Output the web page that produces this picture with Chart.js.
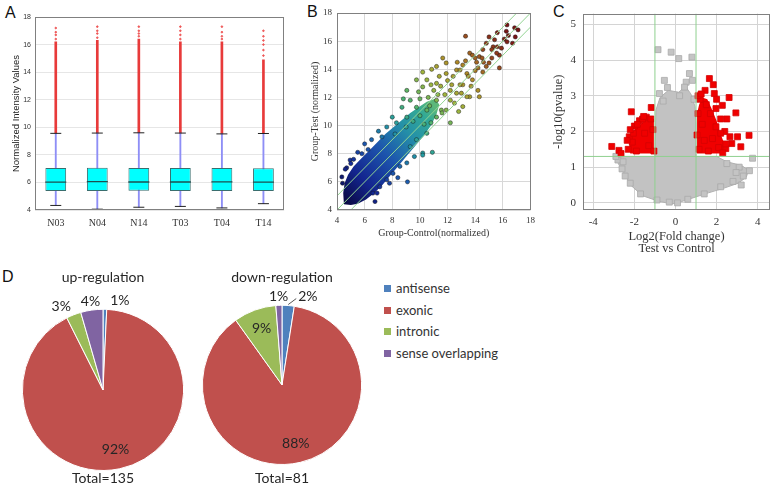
<!DOCTYPE html>
<html>
<head>
<meta charset="utf-8">
<script src="https://cdn.jsdelivr.net/npm/chart.js@4.4.1/dist/chart.umd.min.js"></script>
<style>
  html, body { margin: 0; padding: 0; background: #fff; }
  body { width: 775px; height: 489px; position: relative; overflow: hidden; }
  canvas { position: absolute; }
  .tag { position: absolute; font: 16px "Liberation Sans", Arial, sans-serif; color: #111; line-height: 1; }
  #legend { position: absolute; left: 384px; top: 278px; font: 13px Lato, sans-serif; color: #333; }
  #legend div { height: 21.7px; line-height: 21.7px; white-space: nowrap; }
  #legend span { display: inline-block; width: 7px; height: 7px; margin-right: 5px; vertical-align: 1px; }
</style>
</head>
<body>
<div class="tag" style="left:5px;top:5px">A</div>
<div class="tag" style="left:307px;top:4px">B</div>
<div class="tag" style="left:553px;top:4px">C</div>
<div class="tag" style="left:2px;top:269px">D</div>
<canvas id="boxA" width="296" height="240" style="left:0;top:0"></canvas>
<canvas id="scatterB" width="250" height="245" style="left:290px;top:0"></canvas>
<canvas id="volcanoC" width="235" height="262" style="left:540px;top:0"></canvas>
<canvas id="pieUp" width="166" height="227" style="left:20px;top:262px"></canvas>
<canvas id="pieDown" width="166" height="227" style="left:199px;top:262px"></canvas>
<div id="legend"></div>
<script>
// ---------- A: box plot of normalized intensities
const samples = ['N03', 'N04', 'N14', 'T03', 'T04', 'T14'];
const whiskerLow = [4.33, 4.06, 4.2, 4.26, 4.15, 4.46];
const q1 = [5.38, 5.38, 5.39, 5.38, 5.38, 5.38];
const median = [6.02, 6.06, 6.03, 6.03, 6.04, 6.02];
const q3 = [7.05, 7.06, 7.05, 7.05, 7.05, 7.03];
const whiskerHigh = [9.56, 9.58, 9.6, 9.58, 9.52, 9.55];
const outlierDenseTop = [16.2, 16.3, 16.4, 16.2, 16.2, 14.9];
const outlierSparse = [
  [16.4, 16.7, 16.9, 17.2],
  [16.5, 16.8, 17.0, 17.3],
  [16.6, 16.8, 17.0, 17.3],
  [16.4, 16.7, 17.0, 17.3],
  [16.4, 16.6, 16.9, 17.3],
  [15.2, 15.6, 16.0, 16.3, 16.6, 17.0]
];
const intensityTicks = [4, 6, 8, 10, 12, 14, 16, 18];

// ---------- B: scatter Test vs Control
const scatterTicks = [4, 6, 8, 10, 12, 14, 16, 18];
const foldOffsets = [1, 0, -1];
const controlVals = [13.3, 16.3, 17.1, 16.85, 16.25, 16.1, 15.6, 15.4, 15.0, 15.3, 15.2, 15.6, 14.8, 14.55, 15.75, 15.55, 16.3, 16.7, 16.9,
  14.3, 14.5, 15.0, 14.8, 15.75, 14.1, 14.2, 14.55, 13.6, 13.8, 13.1, 12.65, 12.9, 13.4, 13.8, 14.3, 14.2, 13.6, 13.1, 12.4,
  11.65, 11.9, 11.2, 10.85, 10.2, 10.5, 9.75, 9.05, 9.3, 8.7, 10.2, 11.2, 12.2, 12.65, 13.4, 13.1, 12.2, 11.2, 11.55, 10.5,
  9.75, 9.05, 8.3, 7.6, 7.25, 6.5, 6.25, 5.5, 4.95, 4.7, 4.35, 11.2, 12.2, 10.5, 9.75, 9.3, 10.2, 9.6, 9.05, 8.55, 8.05,
  7.6, 7.1, 6.6, 9.1, 6.9, 6.75, 4.4, 10.9, 10.2, 11.8, 12.5, 11.0, 10.6, 12.9, 13.5, 14.0, 12.0, 11.5, 10.0, 9.5, 10.8,
  11.6, 12.8, 13.0, 14.6, 15.2, 15.9, 16.4, 14.0, 13.3, 12.7, 11.9, 12.3, 13.7, 8.0, 7.0, 6.0, 8.8, 9.9, 10.8, 11.4, 8.2,
  9.0, 10.0, 10.7, 11.9, 10.3, 11.3, 5.2, 5.8, 4.6, 5.0, 7.8, 8.4];
const testVals = [16.35, 17.15, 16.8, 16.95, 16.7, 16.15, 16.6, 16.1, 16.3, 15.6, 15.4, 15.6, 15.85, 15.4, 15.0, 15.15, 15.95, 15.85, 16.3,
  14.9, 14.8, 14.45, 14.2, 14.1, 14.5, 14.1, 13.8, 15.15, 15.0, 14.3, 13.95, 13.95, 13.7, 13.25, 12.05, 12.5, 12.05, 12.9, 13.5,
  14.8, 14.45, 14.2, 14.0, 13.8, 13.25, 13.25, 12.5, 11.8, 11.3, 12.75, 13.0, 12.5, 12.3, 12.05, 11.35, 11.8, 11.8, 11.1, 11.1,
  11.3, 10.6, 10.2, 9.9, 9.2, 9.0, 8.3, 8.1, 7.55, 7.0, 6.35, 10.6, 10.2, 9.45, 9.0, 8.5, 8.05, 7.8, 7.35, 7.1, 6.6,
  6.15, 5.65, 5.2, 6.0, 5.2, 4.6, 5.9, 8.1, 7.9, 12.2, 11.6, 12.5, 12.0, 12.9, 13.5, 13.9, 13.2, 12.8, 11.9, 10.3, 10.2,
  10.9, 11.0, 12.3, 14.5, 14.8, 15.5, 16.4, 14.8, 14.6, 14.5, 13.7, 12.9, 12.8, 10.6, 9.6, 8.7, 11.9, 12.4, 12.9, 13.5, 9.4,
  9.9, 10.7, 11.4, 11.1, 10.1, 12.2, 7.6, 8.0, 6.9, 7.3, 5.9, 6.3];
// outline of the dense low-intensity cloud
const coreControl = [4.5, 4.45, 4.55, 4.8, 5.2, 5.7, 6.3, 6.9, 7.5, 8.1, 8.7, 9.3, 9.9, 10.5, 11.1, 11.4, 11.2, 10.8, 10.3, 9.7, 9.1, 8.5, 7.9, 7.3, 6.7, 6.1, 5.5, 5.0];
const coreTest = [4.4, 5.2, 5.9, 6.5, 7.1, 7.6, 8.2, 8.8, 9.4, 9.9, 10.4, 10.9, 11.3, 11.7, 11.9, 11.5, 10.8, 10.0, 9.3, 8.6, 7.9, 7.2, 6.5, 5.8, 5.2, 4.75, 4.45, 4.35];

// ---------- C: volcano plot
const fcTicks = [-4, -2, 0, 2, 4];
const pTicks = [0, 1, 2, 3, 4, 5];
const fcRange = [-4.5, 4.6];
const pRange = [-0.2, 5.3];
const fcCut = [-1, 1];
const pCut = 1.3;
const greyFC = [-0.85, -0.21, 0.16, 0.8, 0.68, -0.54, 0.52, 0.83, -0.39, -0.78, 0.44, 0.2, -0.6, 0.9, 3.75, 3.6, 3.3, 3.1, 2.8, 2.5, 2.2,
  -2.6, -2.8, -2.2, -1.7, -0.9, -2.45, 1.4, 0.6, -0.3, 0.1, 3.2, 2.95, -2.9, -2.55];
const greyP = [4.29, 4.22, 4.04, 4.08, 3.62, 3.43, 3.38, 3.43, 3.23, 3.06, 3.24, 3.0, 2.85, 2.9, 1.25, 0.9, 0.75, 1.0, 0.6, 1.1, 0.45,
  0.95, 1.2, 0.55, 0.25, 0.08, 0.75, 0.25, 0.1, 0.02, 0.0, 0.5, 0.85, 1.3, 1.15];
const redFC = [-3.1, -2.75, -2.65, -2.15, -1.18, -1.42, -2.25, -2.3, -2.0, -1.75, -2.1, -1.5, -1.9, -1.3, -1.1, -1.6, -2.35, -1.05, -2.05, -1.2,
  1.65, 1.84, 1.44, 1.89, 2.61, 2.28, 2.94, 1.97, 3.58, 3.02, 3.18, 2.74, 2.45, 1.97, 1.2, 1.1, 1.5, 2.2, 2.4, 1.1, 1.3, 1.8, 2.1,
  1.6, 1.15, 1.05, 1.7, 2.0, 2.5, 2.65, 1.4, 2.3, -2.2, -1.85, -1.55, 2.2, 2.45, 1.25];
const redP = [1.58, 1.47, 1.38, 2.55, 2.67, 2.4, 1.85, 1.5, 2.15, 2.3, 1.7, 1.95, 1.45, 1.6, 2.05, 2.35, 1.75, 1.45, 1.95, 2.35,
  3.48, 3.31, 3.15, 3.06, 2.95, 2.73, 2.52, 2.64, 1.89, 1.85, 1.57, 1.66, 1.52, 2.13, 2.9, 3.0, 2.75, 2.35, 2.0, 2.5, 2.2, 1.8, 1.55,
  1.45, 1.5, 1.9, 2.5, 2.9, 2.35, 1.85, 1.75, 1.4, 2.05, 2.2, 2.42, 1.95, 1.65, 3.05];
// outlines of the densely packed regions
const greyCoreFC = [0, 0.8, 1.6, 2.4, 3.05, 3.45, 3.55, 3.2, 2.5, 2.0, 1.0, 1.0, 0.95, 0.75, 0.5, 0.15, -0.35, -0.75, -0.95, -1.0, -2.75, -2.8, -2.55, -2.15, -1.6, -0.9, -0.3];
const greyCoreP = [-0.02, 0.13, 0.28, 0.42, 0.55, 0.72, 0.92, 1.05, 1.15, 1.3, 1.3, 2.2, 2.7, 3.05, 3.25, 3.1, 3.15, 2.95, 2.6, 1.3, 1.3, 1.12, 0.85, 0.48, 0.2, 0.06, -0.02];
const redLeftFC = [-2.2, -2.25, -2.15, -1.95, -1.65, -1.4, -1.05, -1.05];
const redLeftP = [1.38, 1.6, 1.9, 2.08, 2.22, 2.35, 2.35, 1.38];
const redRightFC = [1.05, 1.05, 1.15, 1.3, 1.55, 1.75, 2.0, 2.15, 2.35, 2.45, 2.3];
const redRightP = [1.38, 2.5, 2.75, 2.95, 2.9, 2.65, 2.3, 2.0, 1.7, 1.5, 1.38];

// ---------- D: lncRNA class pies
const lncTypes = ['antisense', 'exonic', 'intronic', 'sense overlapping'];
const typeColors = ['#4f81bd', '#c0504d', '#9bbb59', '#8064a2'];
const upCounts = [1, 124, 4, 6];
const downCounts = [2, 71, 7, 1];

Chart.defaults.animation = false;
Chart.defaults.events = [];
Chart.defaults.plugins.legend.display = false;
Chart.defaults.plugins.tooltip.enabled = false;

const serif = 'Liberation Serif';
const sans = 'Liberation Sans';

// box around plot area
const frame = {
  id: 'frame',
  afterDatasetsDraw(chart) {
    const a = chart.chartArea, ctx = chart.ctx;
    ctx.save();
    ctx.strokeStyle = '#808080';
    ctx.lineWidth = 1;
    ctx.strokeRect(Math.round(a.left) + 0.5, Math.round(a.top) + 0.5, Math.round(a.width) - 1, Math.round(a.height) - 1);
    ctx.restore();
  }
};

function polyPath(chart, xs, ys) {
  const {ctx, scales: {x, y}} = chart;
  ctx.beginPath();
  xs.forEach((v, i) => {
    const px = x.getPixelForValue(v), py = y.getPixelForValue(ys[i]);
    if (i) ctx.lineTo(px, py); else ctx.moveTo(px, py);
  });
  ctx.closePath();
}

function mix(stops, v) {
  if (v <= stops[0][0]) return stops[0][1];
  for (let i = 1; i < stops.length; i++) {
    if (v <= stops[i][0]) {
      const t = (v - stops[i - 1][0]) / (stops[i][0] - stops[i - 1][0]);
      const a = stops[i - 1][1], b = stops[i][1];
      return a.map((c, k) => Math.round(c + (b[k] - c) * t));
    }
  }
  return stops[stops.length - 1][1];
}
const heat = [
  [4.5, [10, 10, 70]], [6, [20, 40, 150]], [7.5, [28, 90, 175]], [9, [34, 155, 165]],
  [10.5, [80, 180, 110]], [12, [160, 180, 60]], [13.5, [175, 140, 40]], [15, [150, 70, 30]], [16.5, [120, 20, 20]]
];
const heatColor = v => 'rgb(' + mix(heat, v).join(',') + ')';

// ---------- A
new Chart(document.getElementById('boxA'), {
  type: 'bar',
  data: {
    labels: samples,
    datasets: [
      { type: 'line', data: median, showLine: false, pointStyle: 'line', pointRadius: 10.5, borderColor: '#1d4f4f', pointBorderWidth: 1.3, order: 0 },
      { type: 'line', data: whiskerLow, showLine: false, pointStyle: 'line', pointRadius: 5.5, borderColor: '#222', pointBorderWidth: 1, order: 0 },
      { type: 'line', data: whiskerHigh, showLine: false, pointStyle: 'line', pointRadius: 5.5, borderColor: '#222', pointBorderWidth: 1, order: 0 },
      { data: samples.map((s, i) => [q1[i], q3[i]]), backgroundColor: '#00ffff', borderColor: '#3a6e6e', borderWidth: 1,
        borderSkipped: false, barPercentage: 0.5, categoryPercentage: 1, grouped: false, order: 1 },
      { data: samples.map((s, i) => [whiskerLow[i], whiskerHigh[i]]), backgroundColor: '#8e8ef6', barThickness: 1.2, grouped: false, order: 2 },
      { data: samples.map((s, i) => [whiskerHigh[i], outlierDenseTop[i]]), backgroundColor: '#e83a3a', barThickness: 2, grouped: false, order: 2 },
      { type: 'line', data: samples.flatMap((s, i) => outlierSparse[i].map(v => ({ x: s, y: v }))), showLine: false,
        pointRadius: 0.8, backgroundColor: '#e55', borderColor: '#e55', order: 3 }
    ]
  },
  options: {
    responsive: false,
    layout: { padding: { left: 7, top: 17, right: 4, bottom: 0 } },
    scales: {
      x: {
        grid: { display: false, drawTicks: false }, border: { display: false },
        ticks: { color: '#333', font: { family: serif, size: 10 }, padding: 7 },
        afterFit: s => { s.height = 30; }
      },
      y: {
        min: 4, max: 18,
        afterBuildTicks: s => { s.ticks = intensityTicks.map(v => ({ value: v })); },
        grid: { color: '#e6e6e6', drawTicks: false }, border: { display: false },
        ticks: { color: '#333', font: { family: sans, size: 7 }, padding: 4 },
        title: { display: true, text: 'Normalized Intensity Values', color: '#222', font: { family: sans, size: 9.5 } },
        afterFit: s => { s.width = 28; }
      }
    }
  },
  plugins: [frame]
});

// ---------- B
new Chart(document.getElementById('scatterB'), {
  type: 'scatter',
  data: {
    datasets: [
      ...foldOffsets.map(k => ({ type: 'line', data: [{ x: 4, y: 4 + k }, { x: 18, y: 18 + k }], borderColor: '#92d492',
        borderWidth: 1, pointRadius: 0, fill: false, order: 0 })),
      { data: controlVals.map((v, i) => ({ x: v, y: testVals[i] })), pointRadius: 2.1, borderWidth: 0.6,
        borderColor: 'rgba(20,20,20,0.75)', backgroundColor: c => c.raw ? heatColor((c.raw.x + c.raw.y) / 2) : '#000', order: 1 }
    ]
  },
  options: {
    responsive: false,
    layout: { padding: { left: 15, top: 13, right: 9, bottom: 0 } },
    scales: {
      x: {
        type: 'linear', min: 4, max: 18,
        afterBuildTicks: s => { s.ticks = scatterTicks.map(v => ({ value: v })); },
        grid: { color: '#d8d8d8', drawTicks: false }, border: { display: false },
        ticks: { color: '#333', font: { family: serif, size: 9 }, padding: 5 },
        title: { display: true, text: 'Group-Control(normalized)', color: '#333', font: { family: serif, size: 10, lineHeight: '12px' }, padding: { top: 0, bottom: 6 } },
        afterFit: s => { s.height = 35; }
      },
      y: {
        min: 4, max: 18,
        afterBuildTicks: s => { s.ticks = scatterTicks.map(v => ({ value: v })); },
        grid: { color: '#d8d8d8', drawTicks: false }, border: { display: false },
        ticks: { color: '#333', font: { family: serif, size: 9 }, padding: 5 },
        title: { display: true, text: 'Group-Test (normalized)', color: '#333', font: { family: serif, size: 10, lineHeight: '12px' }, padding: { top: 4, bottom: 0 } },
        afterFit: s => { s.width = 32; }
      }
    }
  },
  plugins: [frame, {
    id: 'denseCloud',
    beforeDatasetsDraw(chart) {
      const {ctx, chartArea: a, scales: {x, y}} = chart;
      const g = ctx.createLinearGradient(x.getPixelForValue(4.6), y.getPixelForValue(4.6), x.getPixelForValue(11.2), y.getPixelForValue(11.2));
      g.addColorStop(0, '#0a0a45');
      g.addColorStop(0.22, '#13258f');
      g.addColorStop(0.48, '#1d55ad');
      g.addColorStop(0.72, '#2490a8');
      g.addColorStop(0.9, '#33aa95');
      g.addColorStop(1, '#5cb77a');
      ctx.save();
      ctx.beginPath(); ctx.rect(a.left, a.top, a.width, a.height); ctx.clip();
      polyPath(chart, coreControl, coreTest);
      ctx.fillStyle = g;
      ctx.fill();
      ctx.restore();
    }
  }]
});

// ---------- C
const vLine = v => ({ type: 'line', data: [{ x: v, y: pRange[0] }, { x: v, y: pRange[1] }], borderColor: '#8fd08f', borderWidth: 1, pointRadius: 0, fill: false, order: 0 });
new Chart(document.getElementById('volcanoC'), {
  type: 'scatter',
  data: {
    datasets: [
      ...fcCut.map(vLine),
      { type: 'line', data: [{ x: fcRange[0], y: pCut }, { x: fcRange[1], y: pCut }], borderColor: '#8fd08f', borderWidth: 1, pointRadius: 0, fill: false, order: 0 },
      { data: redFC.map((v, i) => ({ x: v, y: redP[i] })), pointStyle: 'rect', pointRadius: 4.2, backgroundColor: '#f00000', borderColor: '#d40000', borderWidth: 0.8, order: 1 },
      { data: greyFC.map((v, i) => ({ x: v, y: greyP[i] })), pointStyle: 'rect', pointRadius: 4.2, backgroundColor: '#c4c4c4', borderColor: '#a9a9a9', borderWidth: 0.8, order: 2 }
    ]
  },
  options: {
    responsive: false,
    layout: { padding: { left: 8, top: 13, right: 4, bottom: 0 } },
    scales: {
      x: {
        type: 'linear', min: fcRange[0], max: fcRange[1],
        afterBuildTicks: s => { s.ticks = fcTicks.map(v => ({ value: v })); },
        grid: { color: '#d4d4d4', drawTicks: false }, border: { display: false },
        ticks: { color: '#333', font: { family: serif, size: 11 }, padding: 6 },
        title: { display: true, text: ['Log2(Fold change)', 'Test vs Control'], color: '#333', font: { family: serif, size: 12.5, lineHeight: '12px' }, padding: { top: 0, bottom: 7 } },
        afterFit: s => { s.height = 52; }
      },
      y: {
        min: pRange[0], max: pRange[1],
        afterBuildTicks: s => { s.ticks = pTicks.map(v => ({ value: v })); },
        grid: { color: '#d4d4d4', drawTicks: false }, border: { display: false },
        ticks: { color: '#333', font: { family: serif, size: 11 }, padding: 7 },
        title: { display: true, text: '-log10(pvalue)', color: '#333', font: { family: serif, size: 12.5, lineHeight: '14px' }, padding: { top: 4, bottom: 0 } },
        afterFit: s => { s.width = 35; }
      }
    }
  },
  plugins: [frame, {
    id: 'denseSquares',
    beforeDatasetsDraw(chart) {
      const {ctx, chartArea: a} = chart;
      ctx.save();
      ctx.beginPath(); ctx.rect(a.left, a.top, a.width, a.height); ctx.clip();
      polyPath(chart, greyCoreFC, greyCoreP);
      ctx.fillStyle = '#c2c2c2'; ctx.fill();
      ctx.strokeStyle = '#b0b0b0'; ctx.lineWidth = 1; ctx.stroke();
      [[redLeftFC, redLeftP], [redRightFC, redRightP]].forEach(([xs, ys]) => {
        polyPath(chart, xs, ys);
        ctx.fillStyle = '#f00000'; ctx.fill();
      });
      ctx.restore();
    }
  }]
});

// ---------- D
const pieLabels = {
  id: 'pieLabels',
  afterDatasetsDraw(chart) {
    const {ctx} = chart;
    const meta = chart.getDatasetMeta(0);
    const vals = chart.data.datasets[0].data;
    const total = vals.reduce((a, b) => a + b, 0);
    ctx.save();
    ctx.font = '14px Lato, sans-serif';
    ctx.fillStyle = '#262626';
    ctx.textBaseline = 'middle';
    ctx.textAlign = 'center';
    const placed = [];
    for (let i = meta.data.length - 1; i >= 0; i--) {
      const arc = meta.data[i];
      const text = Math.round(vals[i] / total * 100) + '%';
      const w = ctx.measureText(text).width;
      const mid = (arc.startAngle + arc.endAngle) / 2;
      const R = arc.outerRadius;
      if (vals[i] / total >= 0.05) {
        ctx.fillText(text, arc.x + Math.cos(mid) * R * 0.75, arc.y + Math.sin(mid) * R * 0.75);
        continue;
      }
      const base = arc.x + Math.cos(mid) * (R + 9);
      const cy = arc.y + Math.sin(mid) * (R + 9);
      const dir = Math.cos(mid) >= 0 ? 1 : -1;
      let cx = base;
      placed.forEach(p => {
        if (Math.abs(p.cy - cy) < 14 && Math.abs(p.cx - cx) < (p.w + w) / 2 + 2) {
          cx = p.cx + dir * ((p.w + w) / 2 + 10);
        }
      });
      if (Math.abs(cx - base) > 16) {
        ctx.strokeStyle = '#555';
        ctx.lineWidth = 1;
        ctx.beginPath();
        ctx.moveTo(arc.x + Math.cos(mid) * (R + 1), arc.y + Math.sin(mid) * (R + 1));
        ctx.lineTo(cx - dir * (w / 2 + 2), cy + 2);
        ctx.stroke();
      }
      ctx.fillText(text, cx, cy);
      placed.push({ cx, cy, w });
    }
    ctx.restore();
  }
};

function makePie(id, counts, title, titleGap, totalGap) {
  const total = counts.reduce((a, b) => a + b, 0);
  return new Chart(document.getElementById(id), {
    type: 'pie',
    data: { labels: lncTypes, datasets: [{ data: counts, backgroundColor: typeColors, borderColor: '#fff', borderWidth: 1 }] },
    options: {
      responsive: false,
      layout: { padding: 0 },
      plugins: {
        title: { display: true, text: title, color: '#262626', font: { family: 'Lato', size: 14, weight: 'normal', lineHeight: 1.2 }, padding: { top: 7, bottom: titleGap } },
        subtitle: { display: true, position: 'bottom', text: 'Total=' + total, color: '#262626', font: { family: 'Lato', size: 14, weight: 'normal', lineHeight: 1 }, padding: { top: totalGap, bottom: 4 } }
      }
    },
    plugins: [pieLabels]
  });
}
makePie('pieUp', upCounts, 'up-regulation', 23, 0);
makePie('pieDown', downCounts, 'down-regulation', 19, 6);

document.getElementById('legend').innerHTML = lncTypes
  .map((t, i) => '<div><span style="background:' + typeColors[i] + '"></span>' + t + '</div>').join('');
</script>
</body>
</html>
